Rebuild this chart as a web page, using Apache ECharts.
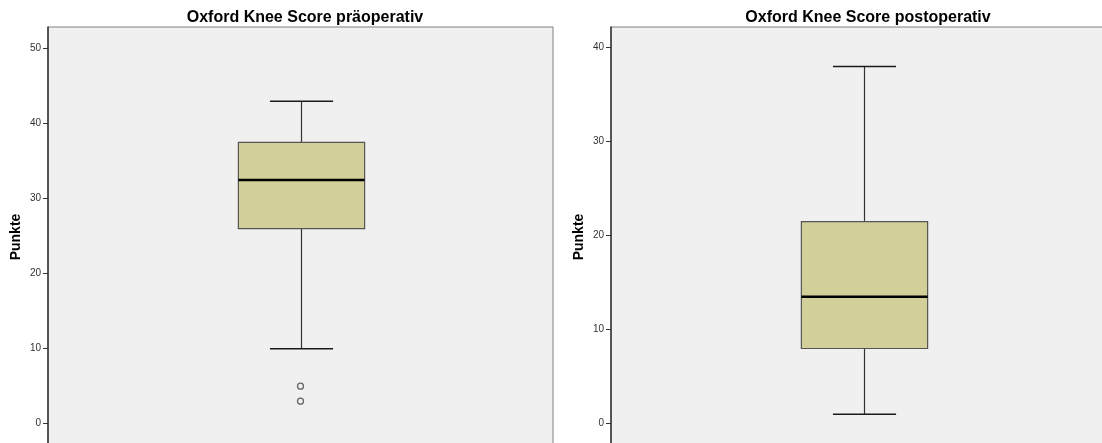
<!DOCTYPE html>
<html>
<head>
<meta charset="utf-8">
<title>Oxford Knee Score</title>
<script src="https://cdn.jsdelivr.net/npm/echarts@6/dist/echarts.min.js"></script>
<style>
  html, body { margin: 0; padding: 0; background: #ffffff; }
  #chart { width: 1102px; height: 443px; }
</style>
</head>
<body>
<div id="chart"></div>
<script>
// Panel titles
const titles = ['Oxford Knee Score präoperativ', 'Oxford Knee Score postoperativ'];
const yAxisName = 'Punkte';

// Box statistics: [min whisker, Q1, median, Q3, max whisker]
const preBox = [10, 26, 32.5, 37.5, 43];
const postBox = [1, 8, 13.5, 21.5, 38];

// Outliers
const preOutliers = [5, 3];
const postOutliers = [];

// Tick labels on each value axis
const preTicks = [0, 10, 20, 30, 40, 50];
const postTicks = [0, 10, 20, 30, 40];

const FONT = '"Liberation Sans", Arial, sans-serif';
const BOX_FILL = '#d3cf98';

function renderBox(params, api) {
  const x = api.value(0);
  const lo = api.coord([x, api.value(1)]);
  const q1 = api.coord([x, api.value(2)]);
  const md = api.coord([x, api.value(3)]);
  const q3 = api.coord([x, api.value(4)]);
  const hi = api.coord([x, api.value(5)]);
  const band = api.size([1, 0])[0];
  const bw = band * 0.25;
  const cw = band * 0.125;
  const cx = Math.round(lo[0]) + 0.5;
  const line = (x1, y1, x2, y2, stroke, w) => ({
    type: 'line',
    shape: { x1: x1, y1: y1, x2: x2, y2: y2 },
    style: { stroke: stroke, lineWidth: w }
  });
  return {
    type: 'group',
    children: [
      line(cx, q3[1], cx, hi[1], '#333333', 1.2),
      line(cx, q1[1], cx, lo[1], '#333333', 1.2),
      line(cx - cw / 2, hi[1], cx + cw / 2, hi[1], '#1a1a1a', 1.6),
      line(cx - cw / 2, lo[1], cx + cw / 2, lo[1], '#1a1a1a', 1.6),
      {
        type: 'rect',
        shape: { x: cx - bw / 2, y: q3[1], width: bw, height: q1[1] - q3[1] },
        style: { fill: BOX_FILL, stroke: '#555555', lineWidth: 1.2 }
      },
      line(cx - bw / 2, md[1], cx + bw / 2, md[1], '#000000', 2.6)
    ]
  };
}

function valueAxis(gridIndex, min, max, ticks) {
  return {
    type: 'value',
    gridIndex: gridIndex,
    min: min,
    max: max,
    name: yAxisName,
    nameLocation: 'middle',
    nameGap: 25,
    nameTextStyle: { fontFamily: FONT, fontSize: 14, fontWeight: 'bold', color: '#000' },
    splitLine: { show: false },
    axisLine: { show: true, lineStyle: { color: '#333333', width: 1.5 } },
    axisTick: { show: true, length: 5, customValues: ticks, lineStyle: { color: '#333333', width: 1 } },
    axisLabel: { customValues: ticks, fontFamily: FONT, fontSize: 10, color: '#333333', margin: 7 }
  };
}

function catAxis(gridIndex, name) {
  return {
    type: 'category',
    gridIndex: gridIndex,
    data: [name],
    axisLine: { show: false },
    axisTick: { show: false },
    axisLabel: { show: false },
    splitLine: { show: false }
  };
}

const chart = echarts.init(document.getElementById('chart'), null, { renderer: 'canvas' });

const titleStyle = { fontFamily: FONT, fontSize: 16, fontWeight: 'bold', color: '#000' };

chart.setOption({
  animation: false,
  backgroundColor: '#ffffff',
  title: [
    { text: titles[0], left: 300, top: 5, textAlign: 'center', textStyle: titleStyle },
    { text: titles[1], left: 863, top: 5, textAlign: 'center', textStyle: titleStyle }
  ],
  grid: [
    { left: 48, top: 27, width: 505, height: 420, show: true, outerBoundsMode: 'none',
      backgroundColor: '#f0f0f0', borderColor: '#808080', borderWidth: 1 },
    { left: 611, top: 27, width: 505, height: 420, show: true, outerBoundsMode: 'none',
      backgroundColor: '#f0f0f0', borderColor: '#808080', borderWidth: 1 }
  ],
  xAxis: [catAxis(0, titles[0]), catAxis(1, titles[1])],
  yAxis: [
    valueAxis(0, -3.11, 52.89, preTicks),
    valueAxis(1, -2.48, 42.2, postTicks)
  ],
  series: [
    {
      type: 'custom',
      xAxisIndex: 0, yAxisIndex: 0,
      renderItem: renderBox,
      data: [[0].concat(preBox)]
    },
    {
      type: 'custom',
      xAxisIndex: 1, yAxisIndex: 1,
      renderItem: renderBox,
      data: [[0].concat(postBox)]
    },
    {
      type: 'scatter',
      xAxisIndex: 0, yAxisIndex: 0,
      symbol: 'circle',
      symbolSize: 6,
      itemStyle: { color: '#f0f0f0', borderColor: '#444444', borderWidth: 1.3 },
      data: preOutliers.map(v => [0, v])
    },
    {
      type: 'scatter',
      xAxisIndex: 1, yAxisIndex: 1,
      symbol: 'circle',
      symbolSize: 6,
      itemStyle: { color: '#f0f0f0', borderColor: '#444444', borderWidth: 1.3 },
      data: postOutliers.map(v => [0, v])
    }
  ]
});
</script>
</body>
</html>
